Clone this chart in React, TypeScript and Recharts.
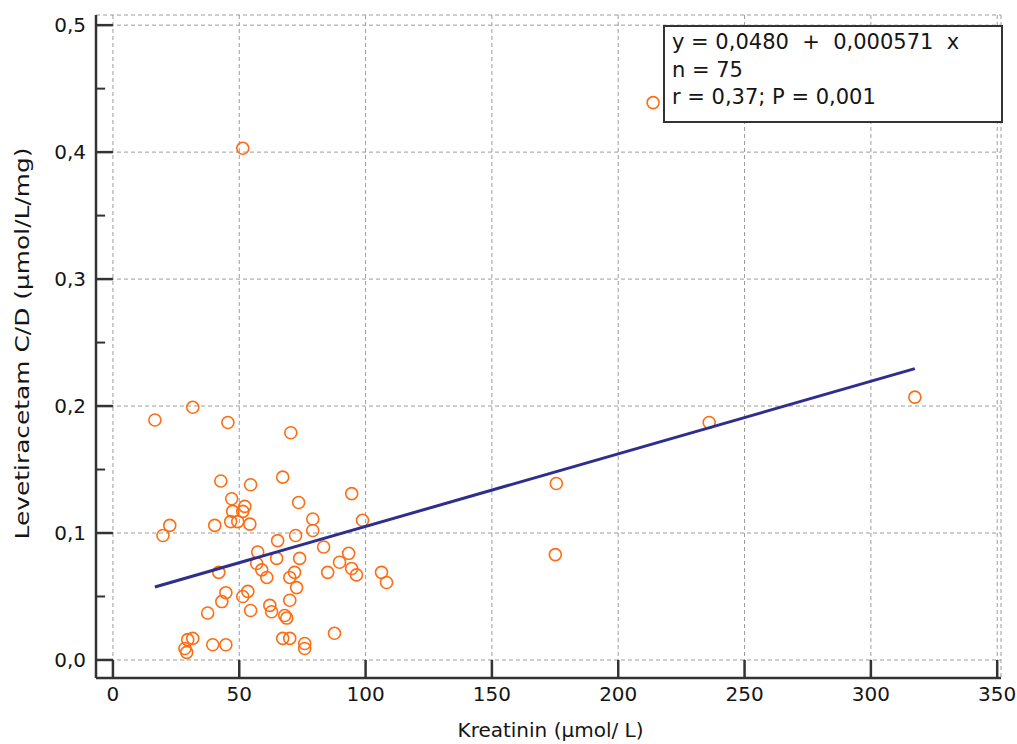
import React from 'react';
import {
  ScatterChart,
  Scatter,
  XAxis,
  YAxis,
  CartesianGrid,
  ReferenceLine
} from 'recharts';

// Kreatinin (µmol/L) against Levetiracetam C/D
const kreatinin = [
  16.6, 31.6, 45.5, 51.4, 70.4, 42.7, 54.5, 67.2, 47.0, 52.2,
  51.4, 47.4, 46.6, 49.4, 54.2, 40.3, 22.5, 19.8, 73.5, 79.1,
  79.1, 94.5, 98.8, 72.3, 65.2, 64.8, 73.9, 83.4, 41.9, 57.3,
  56.9, 58.9, 60.9, 71.9, 70.0, 72.7, 70.0, 85.0, 89.7, 93.3,
  94.5, 96.4, 106.3, 108.3, 44.7, 43.1, 53.4, 51.4, 62.1, 62.8,
  68.0, 68.8, 54.5, 37.5, 29.6, 31.6, 28.5, 29.2, 39.5, 44.7,
  67.2, 70.0, 75.9, 75.9, 87.7, 175.5, 175.1, 236.0, 317.4, 213.8
];
const cdRatio = [
  0.189, 0.199, 0.187, 0.403, 0.179, 0.141, 0.138, 0.144, 0.127, 0.121,
  0.117, 0.117, 0.109, 0.109, 0.107, 0.106, 0.106, 0.098, 0.124, 0.111,
  0.102, 0.131, 0.110, 0.098, 0.094, 0.080, 0.080, 0.089, 0.069, 0.085,
  0.076, 0.071, 0.065, 0.069, 0.065, 0.057, 0.047, 0.069, 0.077, 0.084,
  0.072, 0.067, 0.069, 0.061, 0.053, 0.046, 0.054, 0.050, 0.043, 0.038,
  0.035, 0.033, 0.039, 0.037, 0.016, 0.017, 0.009, 0.006, 0.012, 0.012,
  0.017, 0.017, 0.013, 0.009, 0.021, 0.139, 0.083, 0.187, 0.207, 0.439
];

// regression line end points
const fitX = [16.6, 317.4];
const fitY = [0.0575, 0.2295];

const xTicks = [0, 50, 100, 150, 200, 250, 300, 350];
const yTicks = [0, 0.1, 0.2, 0.3, 0.4, 0.5];
const yMinorTicks = [0.05, 0.15, 0.25, 0.35, 0.45];

const annotation = [
  'y = 0,0480  +  0,000571  x',
  'n = 75',
  'r = 0,37; P = 0,001'
];

const X_MIN = -6.7;
const X_MAX = 351.5;
const Y_MIN = -0.0142;
const Y_MAX = 0.508;

const FONT = '"DejaVu Sans", sans-serif';
const AXIS = '#333333';
const TEXT = '#151515';

const points = kreatinin.map((x, i) => ({ x, y: cdRatio[i] }));
const fitData = fitX.map((x, i) => ({ x, y: fitY[i] }));

const OpenCircle = (props: any) => (
  <circle cx={props.cx} cy={props.cy} r={6} fill="none" stroke="#FF6C12" strokeWidth={1.6} />
);

const XTitle = (props: any) => {
  const vb = props.viewBox;
  return (
    <text x={vb.x + vb.width / 2 + 2} y={737} textAnchor="middle" fill={TEXT} fontSize={20} fontFamily={FONT}>
      Kreatinin (µmol/ L)
    </text>
  );
};

const YTitle = (props: any) => {
  const vb = props.viewBox;
  const cy = vb.y + vb.height / 2 - 3;
  return (
    <text
      x={0}
      y={0}
      transform={`translate(29, ${cy}) rotate(-90)`}
      textAnchor="middle"
      fill={TEXT}
      fontSize={20}
      fontFamily={FONT}
      textLength={392}
      lengthAdjust="spacingAndGlyphs"
    >
      Levetiracetam C/D (µmol/L/mg)
    </text>
  );
};

export default function App() {
  return (
    <div style={{ position: 'absolute', left: 0, top: 0, width: 1017, height: 744, background: '#fff' }}>
      <ScatterChart width={1017} height={744} margin={{ top: 15, right: 16, bottom: 0, left: 0 }}>
        <CartesianGrid stroke="#9c9c9c" strokeDasharray="4 3" />
        <XAxis
          type="number"
          dataKey="x"
          domain={[X_MIN, X_MAX]}
          ticks={xTicks}
          allowDataOverflow
          height={66}
          stroke={AXIS}
          axisLine={{ stroke: AXIS, strokeWidth: 2.5 }}
          tickLine={false}
          tickSize={6}
          tickMargin={3}
          tick={{ fill: TEXT, fontSize: 20, fontFamily: FONT }}
          label={XTitle}
        />
        <YAxis
          type="number"
          dataKey="y"
          domain={[Y_MIN, Y_MAX]}
          ticks={yTicks}
          allowDataOverflow
          width={96}
          stroke={AXIS}
          axisLine={{ stroke: AXIS, strokeWidth: 2.5 }}
          tickLine={false}
          tickSize={6}
          tickMargin={4}
          tickFormatter={(v: number) => v.toFixed(1).replace('.', ',')}
          tick={{ fill: TEXT, fontSize: 20, fontFamily: FONT }}
          label={YTitle}
        />
        {xTicks.map(t => (
          <ReferenceLine
            key={'xt' + t}
            segment={[{ x: t, y: Y_MIN }, { x: t, y: 0 }]}
            stroke={AXIS}
            strokeWidth={2.5}
            ifOverflow="visible"
          />
        ))}
        {yTicks.map(t => (
          <ReferenceLine
            key={'yt' + t}
            segment={[{ x: X_MIN, y: t }, { x: 0, y: t }]}
            stroke={AXIS}
            strokeWidth={2.5}
            ifOverflow="visible"
          />
        ))}
        {yMinorTicks.map(t => (
          <ReferenceLine
            key={'ym' + t}
            segment={[{ x: X_MIN, y: t }, { x: X_MIN + 3.6, y: t }]}
            stroke={AXIS}
            strokeWidth={2}
            ifOverflow="visible"
          />
        ))}
        <Scatter data={points} shape={OpenCircle} isAnimationActive={false} />
        <Scatter
          data={fitData}
          line={{ stroke: '#2E2E8F', strokeWidth: 3 }}
          shape={() => <g />}
          isAnimationActive={false}
        />
      </ScatterChart>
      <div
        style={{
          position: 'absolute',
          left: 663,
          top: 25,
          width: 329,
          height: 92,
          border: '2.5px solid #333',
          background: '#fff',
          padding: '2px 0 0 7px',
          boxSizing: 'content-box',
          fontFamily: FONT,
          fontSize: 21,
          lineHeight: '27.5px',
          color: TEXT,
          whiteSpace: 'pre'
        }}
      >
        {annotation.map(line => (
          <div key={line}>{line}</div>
        ))}
      </div>
    </div>
  );
}
